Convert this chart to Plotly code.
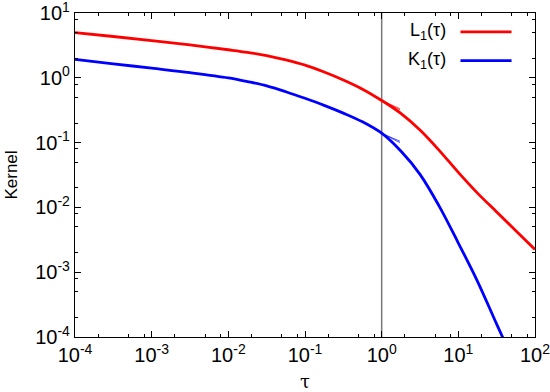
import plotly.graph_objects as go

# tau (log-spaced) and kernel values
tau = [1e-4, 3.162e-4, 1e-3, 3.162e-3, 1e-2, 1.778e-2, 3.162e-2, 5.623e-2, 0.1, 0.1778,
       0.3162, 0.5623, 1.0, 1.778, 3.162, 5.623, 10.0, 17.78, 31.62, 56.23, 100.0]
L1 = [4.97, 4.34, 3.76, 3.22, 2.71, 2.47, 2.20, 1.884, 1.567, 1.23,
      0.925, 0.668, 0.447, 0.282, 0.156, 0.0759, 0.0347, 0.0166, 0.00851, 0.00437, 0.00225]

tau_k = [1e-4, 3.162e-4, 1e-3, 3.162e-3, 1e-2, 1.778e-2, 3.162e-2, 5.623e-2, 0.1, 0.1778,
         0.3162, 0.5623, 1.0, 1.778, 3.162, 5.623, 10.0, 17.78, 31.62, 56.23]
K1 = [1.928, 1.644, 1.406, 1.200, 0.998, 0.875, 0.752, 0.610, 0.483, 0.376,
      0.285, 0.209, 0.1396, 0.0741, 0.0324, 0.01047, 0.00282, 0.000724, 0.000158, 0.0000355]

# short tangent strokes at tau = 1
tan_tau = [1.0, 1.73]
tan_L1 = [[0.447, 0.334], [0.447, 0.322]]
tan_K1 = [[0.1396, 0.105], [0.1396, 0.100]]

xticks = [1e-4, 1e-3, 1e-2, 1e-1, 1, 10, 100]
xlabels = ["10<sup>-4</sup>", "10<sup>-3</sup>", "10<sup>-2</sup>", "10<sup>-1</sup>",
           "10<sup>0</sup>", "10<sup>1</sup>", "10<sup>2</sup>"]
yticks = [1e-4, 1e-3, 1e-2, 1e-1, 1, 10]
ylabels = ["10<sup>-4</sup>", "10<sup>-3</sup>", "10<sup>-2</sup>", "10<sup>-1</sup>",
           "10<sup>0</sup>", "10<sup>1</sup>"]

RED = "#ff0000"
BLUE = "#0000ff"

fig = go.Figure()
fig.add_trace(go.Scatter(x=[1, 1], y=[1e-4, 10], mode="lines",
                         line=dict(color="#777777", width=1.5), showlegend=False))
fig.add_trace(go.Scatter(x=tau, y=L1, mode="lines", name="L1",
                         line=dict(color=RED, width=2.8, shape="spline", smoothing=1.0)))
fig.add_trace(go.Scatter(x=tau_k, y=K1, mode="lines", name="K1",
                         line=dict(color=BLUE, width=2.8, shape="spline", smoothing=1.0)))
for yy in tan_L1:
    fig.add_trace(go.Scatter(x=tan_tau, y=yy, mode="lines",
                             line=dict(color=RED, width=0.7), showlegend=False))
for yy in tan_K1:
    fig.add_trace(go.Scatter(x=tan_tau, y=yy, mode="lines",
                             line=dict(color=BLUE, width=0.7), showlegend=False))

minor_x = [m * 10.0 ** e for e in range(-4, 2) for m in (2, 5, 8)]
minor_y = [m * 10.0 ** e for e in range(-4, 1) for m in (2, 5, 8)]

axis_common = dict(type="log", showgrid=False, zeroline=False, showline=True,
                   linecolor="black", linewidth=1.2, mirror="allticks",
                   ticks="inside", ticklen=6, tickcolor="black", tickwidth=1,
                   automargin=False, ticklabeloverflow="allow",
                   tickfont=dict(family="Liberation Sans, Arial", size=20, color="black"))

fig.update_xaxes(**axis_common, range=[-4, 2], tickvals=xticks, ticktext=xlabels,
                 minor=dict(tickvals=minor_x, ticks="inside", ticklen=3, tickcolor="black"),
                 title=dict(text="τ", font=dict(family="DejaVu Serif", size=18, color="black"),
                            standoff=16))
fig.update_yaxes(**axis_common, range=[-4, 1], tickvals=yticks, ticktext=ylabels,
                 minor=dict(tickvals=minor_y, ticks="inside", ticklen=3, tickcolor="black"),
                 title=dict(text="Kernel", font=dict(family="Liberation Sans, Arial", size=17,
                                                     color="black"), standoff=13))

# gnuplot-style key: text on the left, line sample on the right
key = [("L<sub>1</sub>(τ)", RED, 0.942), ("K<sub>1</sub>(τ)", BLUE, 0.853)]
for txt, col, yk in key:
    fig.add_annotation(x=0.811, y=yk, xref="paper", yref="paper", text=txt,
                       showarrow=False, xanchor="right", yanchor="middle",
                       font=dict(family="Liberation Sans, Arial", size=18, color="black"))
    fig.add_shape(type="line", xref="paper", yref="paper", x0=0.838, x1=0.949,
                  y0=yk, y1=yk, line=dict(color=col, width=2.8))

fig.update_layout(width=550, height=392, showlegend=False,
                  margin=dict(l=75, r=15, t=13, b=55),
                  plot_bgcolor="white", paper_bgcolor="white")

# drop the browser's default body margin so the figure sits at the page corner
fig.write_html("out.html", config={"displayModeBar": False},
               post_script="document.body.style.margin='0';")
